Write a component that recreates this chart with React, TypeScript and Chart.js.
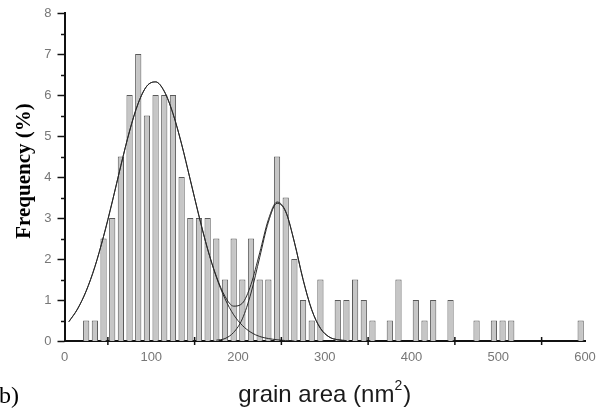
import React, { useEffect, useRef } from "react";
import { Chart, registerables } from "chart.js";

Chart.register(...registerables);

// Histogram bins (centre of each 10 nm² bin) and frequencies (%)
const binCenters = [
  25, 35, 45, 55, 65, 75, 85, 95, 105, 115, 125, 135, 145, 155, 165, 175, 185, 195, 205, 215,
  225, 235, 245, 255, 265, 275, 285, 295, 305, 315, 325, 335, 345, 355, 365, 375, 385, 395, 405, 415,
  425, 435, 445, 455, 465, 475, 485, 495, 505, 515, 525, 535, 545, 555, 565, 575, 585, 595,
];
const frequencies = [
  0.5, 0.5, 2.5, 3, 4.5, 6, 7, 5.5, 6, 6, 6, 4, 3, 3, 3, 2.5, 1.5, 2.5, 1.5, 2.5,
  1.5, 1.5, 4.5, 3.5, 2, 1, 0.5, 1.5, 0, 1, 1, 1.5, 1, 0.5, 0, 0.5, 1.5, 0, 1, 0.5,
  1, 0, 1, 0, 0, 0.5, 0, 0.5, 0.5, 0.5, 0, 0, 0, 0, 0, 0, 0, 0.5,
];

// Fitted curves
const fit1X = [5, 15, 25, 35, 45, 55, 65, 75, 85, 95, 105, 115, 125, 135, 145, 155, 165, 175, 185, 195, 205, 215, 225, 235, 245, 255, 265];
const fit1Y = [0.47, 0.78, 1.22, 1.81, 2.55, 3.39, 4.28, 5.12, 5.8, 6.22, 6.32, 6.09, 5.55, 4.8, 3.93, 3.05, 2.24, 1.56, 1.03, 0.64, 0.38, 0.21, 0.11, 0.06, 0.03, 0.01, 0.0];
const fit2X = [175, 185, 195, 205, 215, 225, 235, 245, 255, 265, 275, 285, 295, 305, 315, 325];
const fit2Y = [0.02, 0.06, 0.21, 0.54, 1.17, 2.04, 2.9, 3.36, 3.15, 2.41, 1.5, 0.76, 0.31, 0.1, 0.03, 0.01];
const sumX = [5, 15, 25, 35, 45, 55, 65, 75, 85, 95, 105, 115, 125, 135, 145, 155, 165, 175, 185, 195, 205, 215, 225, 235, 245, 255, 265, 275, 285, 295, 305, 315, 325];
const sumY = [0.47, 0.78, 1.22, 1.81, 2.55, 3.39, 4.28, 5.12, 5.8, 6.22, 6.32, 6.09, 5.55, 4.8, 3.93, 3.05, 2.24, 1.58, 1.09, 0.85, 0.92, 1.38, 2.15, 2.96, 3.39, 3.16, 2.41, 1.5, 0.76, 0.31, 0.1, 0.03, 0.01];

const xMinorTicks = [50, 150, 250, 350, 450, 550];
const yTickValues = [0, 0.5, 1, 1.5, 2, 2.5, 3, 3.5, 4, 4.5, 5, 5.5, 6, 6.5, 7, 7.5, 8];

const yTitle = "Frequency (%)";
const xTitleMain = "grain area (nm";
const xTitleSup = "2";
const xTitleEnd = ")";
const panelLabel = "b)";

const decorations = {
  id: "decorations",
  afterDraw(chart: any) {
    const { ctx, scales } = chart;
    const x = scales.x;
    const y = scales.y;
    ctx.save();
    ctx.strokeStyle = "#111";
    ctx.lineWidth = 1.5;
    const ax = x.left;
    yTickValues.forEach((v) => {
      const py = Math.round(y.getPixelForValue(v)) + 0.5;
      const len = Number.isInteger(v) ? 7 : 3.5;
      ctx.beginPath();
      ctx.moveTo(ax - len, py);
      ctx.lineTo(ax, py);
      ctx.stroke();
    });
    const ay = y.bottom;
    xMinorTicks.forEach((v) => {
      const px = x.getPixelForValue(v);
      ctx.beginPath();
      ctx.moveTo(px, ay - 4);
      ctx.lineTo(px, ay + 4);
      ctx.stroke();
    });

    // Y title
    ctx.fillStyle = "#000";
    ctx.save();
    ctx.translate(29.5, 171);
    ctx.rotate(-Math.PI / 2);
    ctx.font = "bold 21px 'Liberation Serif', 'Times New Roman', serif";
    ctx.textAlign = "center";
    ctx.textBaseline = "alphabetic";
    ctx.fillText(yTitle, 0, 0);
    ctx.restore();

    // X title with superscript
    ctx.fillStyle = "#1a1a1a";
    const mainFont = "24px 'Liberation Sans', Arial, sans-serif";
    const supFont = "14px 'Liberation Sans', Arial, sans-serif";
    ctx.font = mainFont;
    const wMain = ctx.measureText(xTitleMain).width;
    const wEnd = ctx.measureText(xTitleEnd).width;
    ctx.font = supFont;
    const wSup = ctx.measureText(xTitleSup).width + 1;
    const total = wMain + wSup + wEnd;
    const cx = (x.left + x.right) / 2;
    let sx = cx - total / 2;
    const base = 402;
    ctx.textAlign = "left";
    ctx.textBaseline = "alphabetic";
    ctx.font = mainFont;
    ctx.fillText(xTitleMain, sx, base);
    sx += wMain;
    ctx.font = supFont;
    ctx.fillText(xTitleSup, sx, base - 12);
    sx += wSup;
    ctx.font = mainFont;
    ctx.fillText(xTitleEnd, sx, base);

    // Panel label
    ctx.fillStyle = "#000";
    ctx.font = "24px 'Liberation Serif', 'Times New Roman', serif";
    ctx.fillText(panelLabel, -1, 403);
    ctx.restore();
  },
};

export default function App() {
  const canvasRef = useRef<HTMLCanvasElement | null>(null);

  useEffect(() => {
    if (!canvasRef.current) return;
    const barData = binCenters.map((c, i) => ({ x: c, y: frequencies[i] === 0 ? null : frequencies[i] }));
    const lineStyle = {
      type: "line" as const,
      borderColor: "#2a2a2a",
      borderWidth: 1,
      pointRadius: 0,
      fill: false,
      cubicInterpolationMode: "monotone" as const,
      order: 1,
    };
    const chart = new Chart(canvasRef.current, {
      type: "bar",
      data: {
        datasets: [
          {
            type: "bar",
            data: barData as any,
            backgroundColor: "#c6c6c6",
            borderColor: "#5a5a5a",
            borderWidth: 1,
            barPercentage: 0.72,
            categoryPercentage: 1,
            order: 2,
          },
          { ...lineStyle, data: fit1X.map((v, i) => ({ x: v, y: fit1Y[i] })) },
          { ...lineStyle, data: fit2X.map((v, i) => ({ x: v, y: fit2Y[i] })) },
          { ...lineStyle, data: sumX.map((v, i) => ({ x: v, y: sumY[i] })) },
        ] as any,
      },
      options: {
        animation: false,
        responsive: true,
        maintainAspectRatio: false,
        layout: { padding: { left: 0, top: 13, right: 12, bottom: 0 } },
        plugins: { legend: { display: false }, tooltip: { enabled: false } },
        scales: {
          x: {
            type: "linear",
            min: 0,
            max: 600,
            offset: false,
            grid: { display: false, drawTicks: false, offset: false },
            border: { display: true, color: "#111", width: 2 },
            ticks: {
              stepSize: 100,
              padding: 9,
              color: "#777",
              font: { family: "'Liberation Sans', Arial, sans-serif", size: 13 },
              maxRotation: 0,
            },
            afterFit: (scale: any) => {
              scale.height = 68;
              scale.paddingLeft = 0;
              scale.paddingRight = 0;
            },
          },
          y: {
            min: 0,
            max: 8,
            grid: { display: false, drawTicks: false },
            border: { display: true, color: "#111", width: 2 },
            ticks: {
              stepSize: 1,
              padding: 13,
              color: "#777",
              font: { family: "'Liberation Sans', Arial, sans-serif", size: 13 },
            },
            afterFit: (scale: any) => {
              scale.width = 64.5;
              scale.paddingTop = 0;
              scale.paddingBottom = 0;
            },
          },
        },
      },
      plugins: [decorations],
    });
    return () => chart.destroy();
  }, []);

  return (
    <div style={{ position: "absolute", left: 0, top: 0, width: 597, height: 409, background: "#fff" }}>
      <canvas ref={canvasRef} />
    </div>
  );
}
